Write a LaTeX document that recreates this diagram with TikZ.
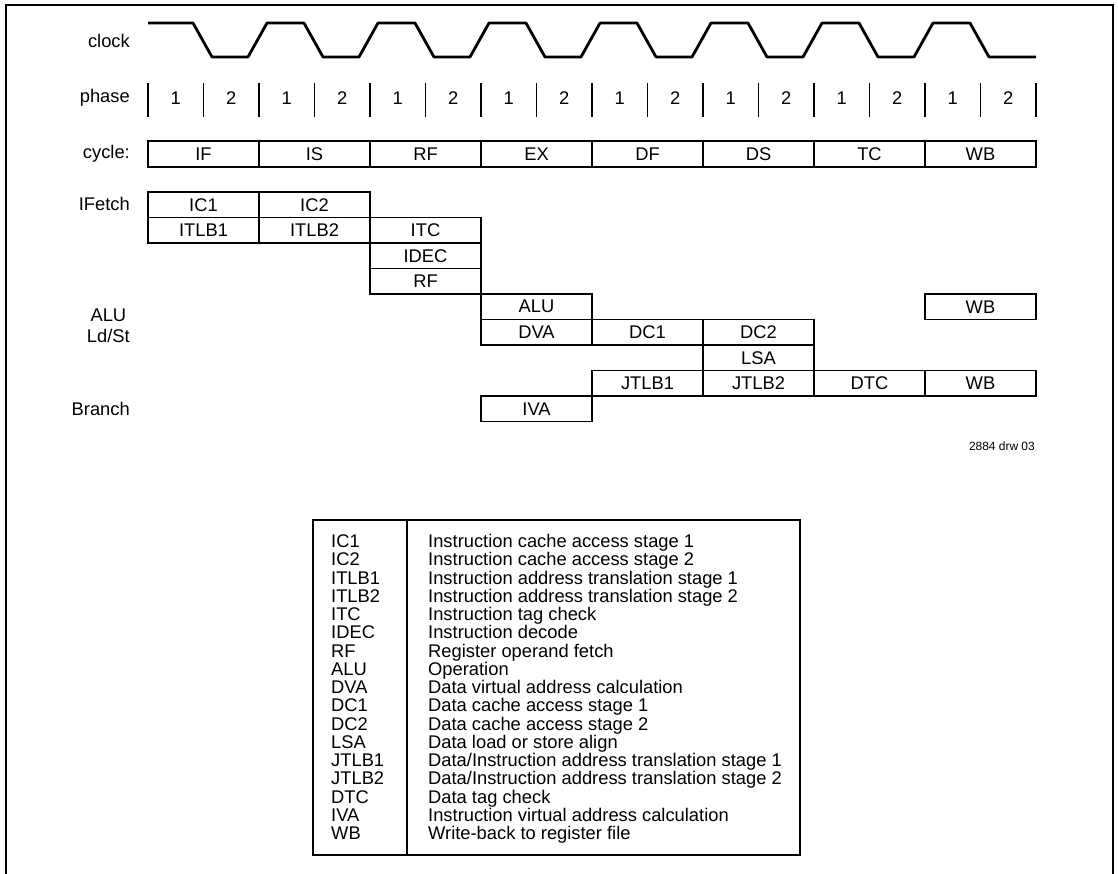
\documentclass[tikz,border=0pt]{standalone}
\usepackage{fontspec}
\setmainfont{Liberation Sans}
\begin{document}
\begin{tikzpicture}[x=1bp,y=-1bp,
  every node/.style={font=\fontsize{18.4}{21}\selectfont, inner sep=0pt},
  cell/.style={draw, line width=1.2bp, minimum width=111bp, minimum height=25.5bp},
  lbl/.style={anchor=east},
  wave/.style={line width=2.8bp, line join=round},
  frame/.style={line width=2bp},
  tick/.style={line width=1.3bp},
  legtext/.style={anchor=base west},
  small/.style={font=\fontsize{12}{14}\selectfont}]
\useasboundingbox (0,0) rectangle (1118,874);
% outer frame (open at bottom)
\draw[frame] (6,874) -- (6,4.5) -- (1113,4.5) -- (1113,874);

% row labels
\node[lbl] (lclock) at (130,41) {clock};
\node[lbl] (lphase) at (130,98) {phase};
\node[lbl] (lcycle) at (130,154) {cycle:};
\node[lbl] (lifetch) at (130,204) {IFetch};
\node[lbl, align=center] (lalu) at (130,326) {ALU\\Ld/St};
\node[lbl] (lbranch) at (130,409) {Branch};

% clock waveform
\draw[wave] (148,23)
  foreach \b in {148,259,...,814} { -- ({\b+45},23) -- ({\b+64},57) -- ({\b+100},57) -- ({\b+119},23) }
  -- (970,23) -- (989,57) -- (1036,57);

% phase
\foreach \i in {0,...,16} \draw[tick] ({148+55.5*\i},83) -- ({148+55.5*\i},117);
\foreach \i in {0,...,7} {
  \node (pa\i) at ({175.75+111*\i},98) {1};
  \node (pb\i) at ({231.25+111*\i},98) {2};
}

% cycle
\foreach \t [count=\c from 0] in {IF,IS,RF,EX,DF,DS,TC,WB}
  \node[cell, minimum height=26bp] (cy\t) at ({203.5+111*\c},154) {\t};

% pipeline stages (columns centred at 203.5+111c, rows at 204.75+25.5r)
\node[cell] (ic1)   at (203.5,204.75) {IC1};
\node[cell] (ic2)   at (314.5,204.75) {IC2};
\node[cell] (itlb1) at (203.5,230.25) {ITLB1};
\node[cell] (itlb2) at (314.5,230.25) {ITLB2};
\node[cell] (itc)   at (425.5,230.25) {ITC};
\node[cell] (idec)  at (425.5,255.75) {IDEC};
\node[cell] (rf)    at (425.5,281.25) {RF};
\node[cell] (alu)   at (536.5,306.75) {ALU};
\node[cell] (wba)   at (980.5,306.75) {WB};
\node[cell] (dva)   at (536.5,332.25) {DVA};
\node[cell] (dc1)   at (647.5,332.25) {DC1};
\node[cell] (dc2)   at (758.5,332.25) {DC2};
\node[cell] (lsa)   at (758.5,357.75) {LSA};
\node[cell] (jtlb1) at (647.5,383.25) {JTLB1};
\node[cell] (jtlb2) at (758.5,383.25) {JTLB2};
\node[cell] (dtc)   at (869.5,383.25) {DTC};
\node[cell] (wbb)   at (980.5,383.25) {WB};
\node[cell] (iva)   at (536.5,408.75) {IVA};

\node[small, anchor=east] (drw) at (1035,446) {2884 drw 03};

% legend
\draw[frame] (313,520) rectangle (800,855);
\draw[frame] (407,520) -- (407,855);
\foreach \a/\d [count=\i from 0] in {
  IC1/{Instruction cache access stage 1},
  IC2/{Instruction cache access stage 2},
  ITLB1/{Instruction address translation stage 1},
  ITLB2/{Instruction address translation stage 2},
  ITC/{Instruction tag check},
  IDEC/{Instruction decode},
  RF/{Register operand fetch},
  ALU/{Operation},
  DVA/{Data virtual address calculation},
  DC1/{Data cache access stage 1},
  DC2/{Data cache access stage 2},
  LSA/{Data load or store align},
  JTLB1/{Data/Instruction address translation stage 1},
  JTLB2/{Data/Instruction address translation stage 2},
  DTC/{Data tag check},
  IVA/{Instruction virtual address calculation},
  WB/{Write-back to register file}} {
  \node[legtext] (la\i) at (331,{547.5+18.25*\i}) {\a};
  \node[legtext] (ld\i) at (428,{547.5+18.25*\i}) {\d};
}
\end{tikzpicture}
\end{document}
